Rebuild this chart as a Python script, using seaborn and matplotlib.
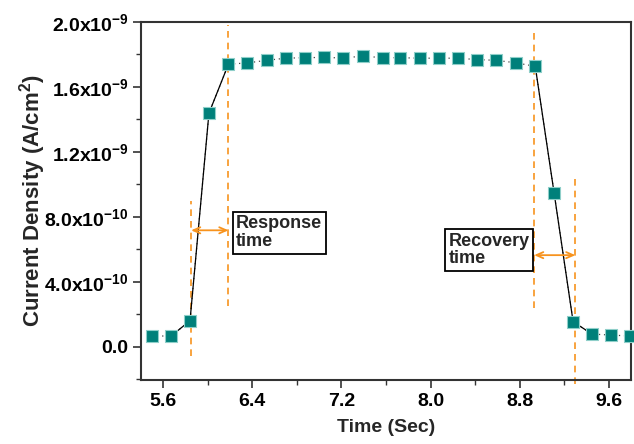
import numpy as np
import pandas as pd
import matplotlib
matplotlib.use('Agg')
import matplotlib.pyplot as plt
import seaborn as sns
from matplotlib.ticker import MultipleLocator, FixedLocator

# Veriler
time_sec = [5.50, 5.67, 5.84, 6.01, 6.185, 6.355, 6.53, 6.70, 6.87, 7.045,
            7.216, 7.39, 7.57, 7.73, 7.905, 8.075, 8.25, 8.42, 8.59, 8.77,
            8.94, 9.11, 9.28, 9.45, 9.62, 9.79]
current = [0.066e-9, 0.066e-9, 0.16e-9, 1.438e-9, 1.74e-9, 1.748e-9, 1.764e-9, 1.777e-9,
           1.78e-9, 1.782e-9, 1.778e-9, 1.79e-9, 1.78e-9, 1.78e-9, 1.777e-9, 1.777e-9,
           1.777e-9, 1.768e-9, 1.764e-9, 1.748e-9, 1.727e-9, 0.944e-9, 0.154e-9,
           0.078e-9, 0.072e-9, 0.066e-9]

y_ticks = [0.0, 4e-10, 8e-10, 1.2e-9, 1.6e-9, 2.0e-9]
y_tick_labels = ['0.0', '4.0x10$^{-10}$', '8.0x10$^{-10}$', '1.2x10$^{-9}$',
                 '1.6x10$^{-9}$', '2.0x10$^{-9}$']
x_ticks = [5.6, 6.4, 7.2, 8.0, 8.8, 9.6]

# Turuncu kesikli çizgiler: (x, y_alt, y_ust)
guide_lines = [(5.85, -0.06e-9, 0.90e-9),
               (6.185, 0.25e-9, 1.98e-9),
               (8.93, 0.236e-9, 1.96e-9),
               (9.30, -0.23e-9, 1.03e-9)]
response_arrow = (5.85, 6.185, 0.717e-9)
recovery_arrow = (8.93, 9.30, 0.564e-9)

df = pd.DataFrame({'time': time_sec, 'current': current})

sns.set_style('ticks')
plt.rcParams['font.family'] = ['Liberation Sans', 'DejaVu Sans']
plt.rcParams['font.weight'] = 'bold'
plt.rcParams['mathtext.fontset'] = 'custom'
plt.rcParams['mathtext.rm'] = 'Liberation Sans:bold'
plt.rcParams['mathtext.bf'] = 'Liberation Sans:bold'
plt.rcParams['mathtext.it'] = 'Liberation Sans:bold'
plt.rcParams['mathtext.default'] = 'bf'

fig = plt.figure(figsize=(6.34, 4.44), dpi=100)
ax = fig.add_axes([0.2224, 0.1441, 0.7729, 0.8064])

teal = '#00807a'
orange = '#f7931e'

# noktalı bağlantı çizgisi
sns.lineplot(data=df, x='time', y='current', ax=ax, color='#444444', lw=0.9,
             linestyle=(0, (1, 3)), sort=False, zorder=2)
# dik geçişler düz çizgi
for a, b in [(1, 5), (20, 24)]:
    sns.lineplot(data=df.iloc[a:b], x='time', y='current', ax=ax, color='black',
                 lw=0.9, sort=False, zorder=2)

sns.scatterplot(data=df, x='time', y='current', ax=ax, marker='s', s=85,
                color=teal, edgecolor='#8fcfc9', linewidth=0.8, zorder=3, clip_on=False)

for x, y0, y1 in guide_lines:
    ax.plot([x, x], [y0, y1], color=orange, lw=1.2, linestyle=(0, (4, 3)),
            zorder=1, clip_on=False)

for x0, x1, y in [response_arrow, recovery_arrow]:
    ax.annotate('', xy=(x0, y), xytext=(x1, y),
                arrowprops=dict(arrowstyle='<->,head_length=0.5,head_width=0.22',
                                color=orange, lw=1.3, shrinkA=0, shrinkB=0))

box = dict(boxstyle='square,pad=0.2', fc='white', ec='black', lw=1.3)
ax.text(6.255, 0.703e-9, 'Response\ntime', fontsize=13, fontweight='bold',
        va='center', ha='left', bbox=box, linespacing=1.05, zorder=4)
ax.text(8.16, 0.595e-9, 'Recovery\ntime', fontsize=13, fontweight='bold',
        va='center', ha='left', bbox=box, linespacing=1.05, zorder=4)

ax.set_xlim(5.4, 9.8)
ax.set_ylim(-2.05e-10, 2.0e-9)
ax.xaxis.set_major_locator(FixedLocator(x_ticks))
ax.xaxis.set_minor_locator(MultipleLocator(0.4))
ax.set_yticks(y_ticks)
ax.set_yticklabels(y_tick_labels)
ax.yaxis.set_minor_locator(MultipleLocator(2e-10))
ax.tick_params(axis='both', which='major', direction='out', length=6, width=1.2,
               labelsize=14, colors='#333333', labelcolor='black')
ax.tick_params(axis='both', which='minor', direction='out', length=3.5, width=1.0,
               colors='#333333')
ax.tick_params(axis='y', which='major', pad=3)
for lab in ax.get_xticklabels() + ax.get_yticklabels():
    lab.set_fontweight('bold')

for sp in ax.spines.values():
    sp.set_visible(True)
    sp.set_linewidth(1.5)
    sp.set_color('#333333')

ax.set_xlabel('Time (Sec)', fontsize=14, fontweight='bold', labelpad=6)
ax.set_ylabel('Current Density (A/cm$^2$)', fontsize=16, fontweight='bold', labelpad=-3)

fig.savefig('out.png', dpi=100)
